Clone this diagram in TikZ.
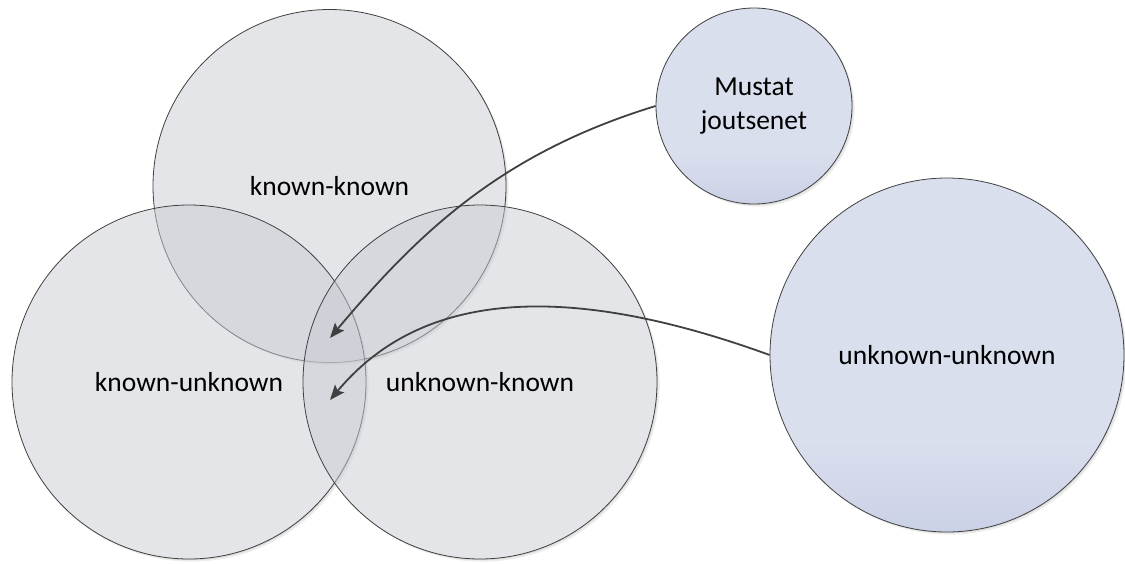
\documentclass[tikz,border=0pt]{standalone}
\usepackage{fontspec}
\setmainfont{Carlito}
\usetikzlibrary{arrows.meta}

\definecolor{greyfill}{RGB}{199,203,209}
\definecolor{blutop}{RGB}{218,223,238}
\definecolor{blubot}{RGB}{203,209,230}
\definecolor{edge}{RGB}{64,64,64}
\definecolor{arrowc}{RGB}{64,64,64}

% pale blue fill that darkens only towards the bottom rim
\pgfdeclareverticalshading{bluefade}{100bp}{color(0bp)=(blubot); color(25bp)=(blubot);
  color(38bp)=(blutop); color(100bp)=(blutop)}

\tikzset{
  label font/.style={font=\fontsize{27.5}{35}\selectfont},
  greyset/.style={circle, inner sep=0pt, label font, draw=edge, line width=0.8pt,
    fill=greyfill, fill opacity=0.5, draw opacity=1, text opacity=1},
  blueset/.style={circle, inner sep=0pt, label font, draw=edge, line width=0.8pt,
    shading=bluefade, align=center},
  conn/.style={draw=arrowc, line width=1.8pt,
    -{Stealth[length=15pt, width=12pt, inset=3pt]}},
  shadowfill/.style={fill=black, opacity=0.07}
}

\begin{document}
\begin{tikzpicture}[x=1pt, y=1pt]
  \useasboundingbox (0,0) rectangle (1125,-563);

  % centres of the five circles
  \coordinate (kkc) at (329.5,-186);
  \coordinate (kuc) at (189,-382);
  \coordinate (ukc) at (480,-382);
  \coordinate (mjc) at (754,-106);
  \coordinate (uuc) at (947,-355);

  % soft shadows on the lower right of each circle
  \foreach \c/\r in {kkc/176.5, kuc/177, ukc/177, mjc/98, uuc/177} {
    \begin{scope}[even odd rule]
      \clip (-10,10) rectangle (1135,-573) (\c) circle (\r);
      \fill[shadowfill] ([shift={(1.2,-1.2)}]\c) circle (\r);
      \fill[shadowfill] ([shift={(2.6,-2.6)}]\c) circle (\r);
    \end{scope}
  }

  % three overlapping grey circles
  \node[greyset, minimum size=353pt] (kk) at (kkc) {known-known};
  \node[greyset, minimum size=354pt] (ku) at (kuc) {known-unknown};
  \node[greyset, minimum size=354pt] (uk) at (ukc) {unknown-known};

  % blue circles
  \node[blueset, minimum size=196pt] (mj) at (mjc) {Mustat\\[-1pt]joutsenet};
  \node[blueset, minimum size=354pt] (uu) at (uuc) {unknown-unknown};

  % arrow targets in the common overlap
  \coordinate (t1) at (330,-338);
  \coordinate (t2) at (330,-400);

  \draw[conn] (mj.west) .. controls +(197:160pt) and +(50:140pt) .. (t1);
  \draw[conn] (uu.west) .. controls +(160:280pt) and +(50:100pt) .. (t2);
\end{tikzpicture}
\end{document}
